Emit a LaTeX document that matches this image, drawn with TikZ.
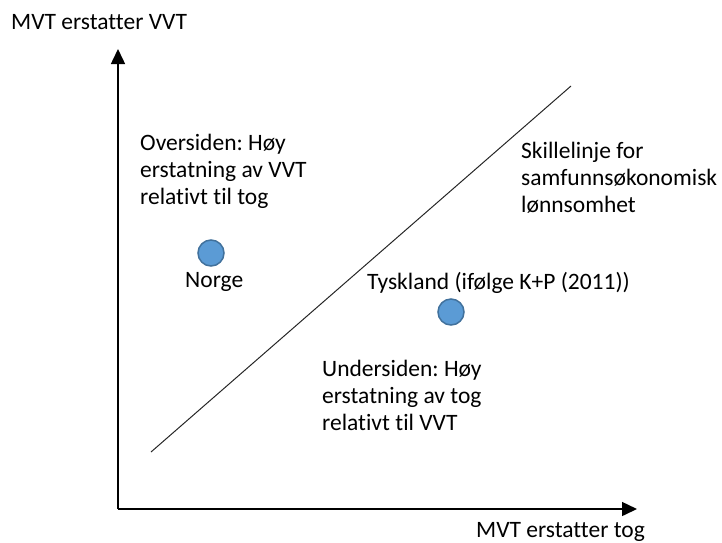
\documentclass[tikz,border=0pt]{standalone}
\usepackage{fontspec}
\setmainfont{Carlito}[Ligatures=NoCommon]
\usetikzlibrary{arrows.meta}
\definecolor{dotfill}{HTML}{5B9BD5}
\definecolor{dotline}{HTML}{41719C}
\frenchspacing
\begin{document}
\begin{tikzpicture}[x=1pt,y=-1pt,
  axis/.style={line width=1.5pt,black,-{Triangle[length=15pt,width=14pt]}},
  divline/.style={line width=1pt,black!85},
  dot/.style={circle,minimum size=26pt,inner sep=0pt,fill=dotfill,draw=dotline,line width=1.5pt},
  lbl/.style={anchor=base west,align=left,inner sep=0pt,font=\fontsize{23.5}{27}\selectfont\frenchspacing}]
\useasboundingbox (0,0) rectangle (722,542);
\coordinate (origin) at (118,509);
\coordinate (ytip) at (118,49);
\coordinate (xtip) at (637,509);
\draw[axis] (origin) -- (ytip);
\draw[axis] (origin) -- (xtip);
\coordinate (d1) at (151,452);
\coordinate (d2) at (571,86);
\draw[divline] (d1) -- (d2);
\node[dot] (norge) at (211,253) {};
\node[dot] (tysk) at (451,312) {};
\node[lbl] (ylab) at (11,29) {MVT erstatter VVT};
\node[lbl] (xlab) at (476,537) {MVT erstatter tog};
\node[lbl] (over) at (140,204) {Oversiden: Høy\\erstatning av VVT\\relativt til tog};
\node[lbl] (norgelbl) at (185,287) {Norge};
\node[lbl] (skille) at (521,212) {Skillelinje for\\samfunnsøkonomisk\\lønnsomhet};
\node[lbl] (tysklbl) at (367,289) {Tyskland (ifølge K+P (2011))};
\node[lbl] (under) at (322,430) {Undersiden: Høy\\erstatning av tog\\relativt til VVT};
\end{tikzpicture}
\end{document}
